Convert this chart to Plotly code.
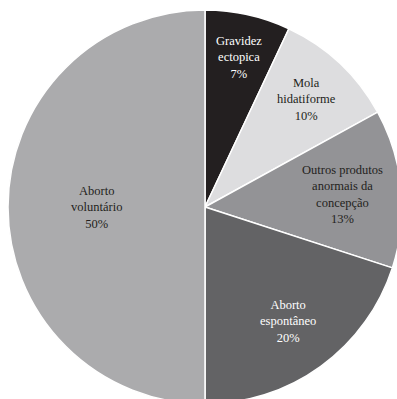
import math
import plotly.graph_objects as go

labels = ["Gravidez ectopica", "Mola hidatiforme", "Outros produtos anormais da concepção",
          "Aborto espontâneo", "Aborto voluntário"]
display_labels = ["Gravidez<br>ectopica", "Mola<br>hidatiforme",
                  "Outros produtos<br>anormais da<br>concepção",
                  "Aborto<br>espontâneo", "Aborto<br>voluntário"]
values = [7, 10, 13, 20, 50]

colors = ["#231f20", "#dddddf", "#939396", "#636365", "#ababad"]
text_colors = ["white", "#231f20", "#231f20", "white", "#231f20"]
label_radius = [0.78, 0.75, 0.70, 0.72, 0.55]  # label distance from centre, fraction of radius

fig = go.Figure(go.Pie(
    labels=labels,
    values=values,
    textinfo="none",
    sort=False,
    direction="clockwise",
    rotation=0,
    marker=dict(colors=colors, line=dict(color="white", width=1.5)),
    showlegend=False,
    hoverinfo="label+percent",
    domain=dict(x=[0, 1], y=[0, 1]),
))

total = sum(values)
cum = 0
annotations = []
for lab, v, tc, f in zip(display_labels, values, text_colors, label_radius):
    mid = (cum + v / 2) / total * 2 * math.pi
    cum += v
    annotations.append(dict(
        x=0.5 + 0.5 * f * math.sin(mid),
        y=0.5 + 0.5 * f * math.cos(mid),
        xref="paper", yref="paper",
        text=f"{lab}<br>{v}%",
        showarrow=False,
        xanchor="center", yanchor="middle",
        font=dict(family="Liberation Serif, DejaVu Serif, serif", size=12.5, color=tc),
    ))

fig.update_layout(
    width=410, height=414,
    margin=dict(l=8, r=8, t=10, b=10),
    paper_bgcolor="white",
    annotations=annotations,
)

fig.write_html("out.html", config={"displayModeBar": False},
               post_script="document.body.style.margin='0';document.body.style.overflow='hidden';")
